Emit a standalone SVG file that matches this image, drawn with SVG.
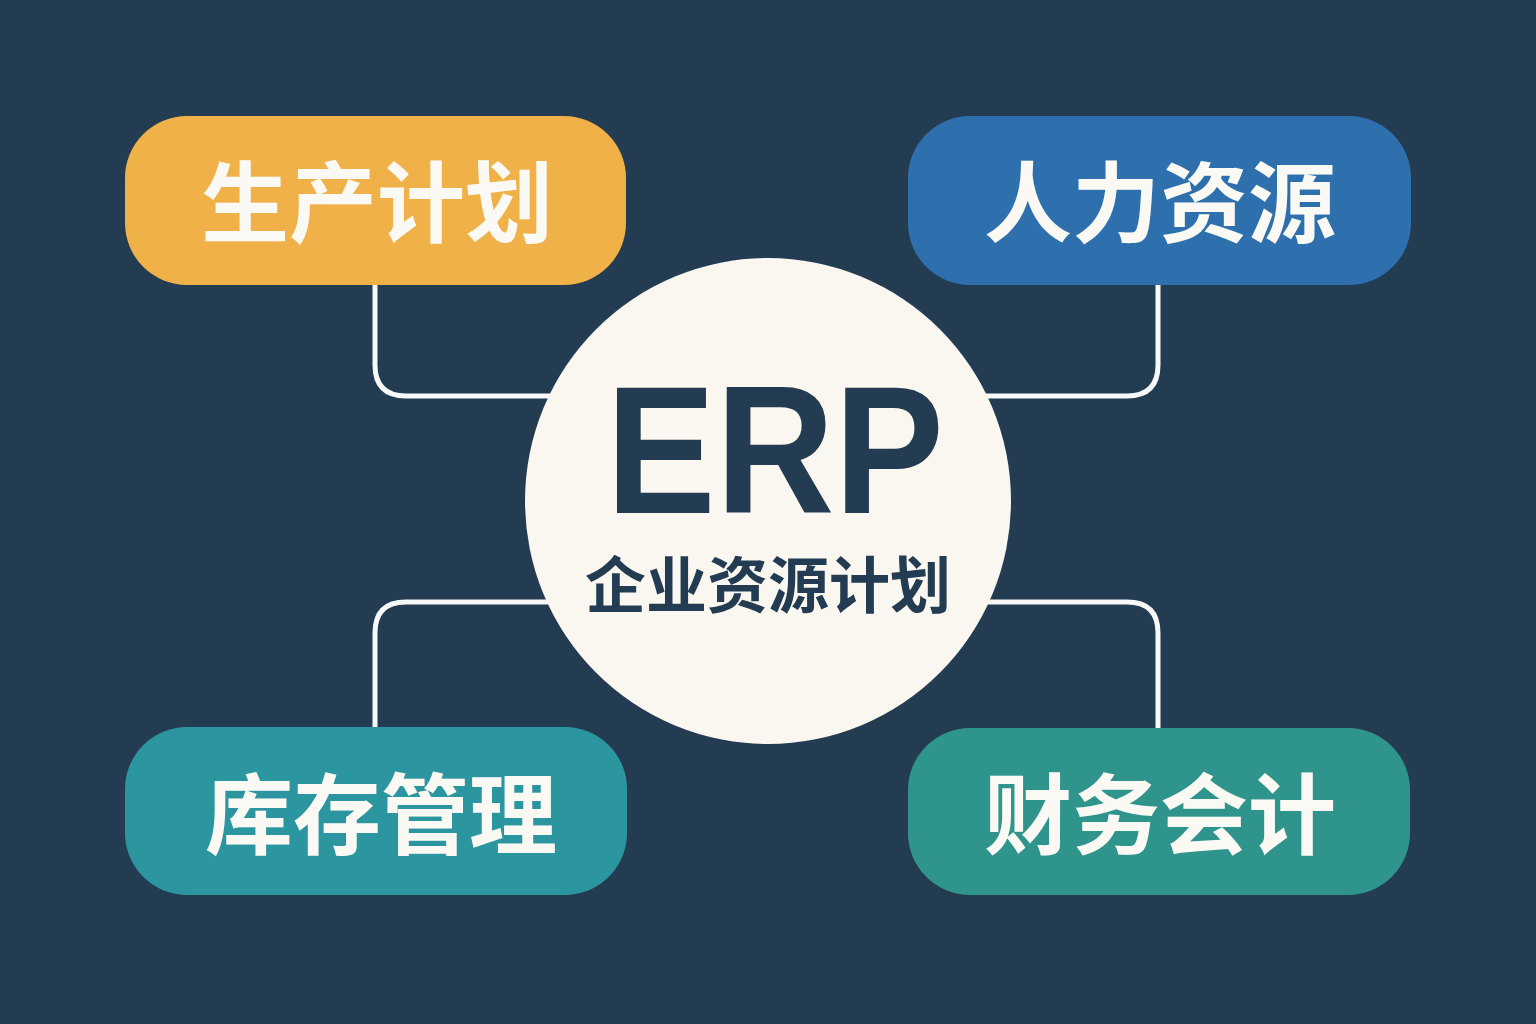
<svg xmlns="http://www.w3.org/2000/svg" width="1536" height="1024" viewBox="0 0 1536 1024">
  <style>
    .conn { fill: none; stroke: #f6f8f9; stroke-width: 5; stroke-linecap: butt; }
    .label { font-family: "Noto Sans CJK SC", "Noto Sans", sans-serif; font-weight: 700; font-size: 88px; fill: #fbf9f4; text-anchor: middle; }
  </style>
  <rect x="0" y="0" width="1536" height="1024" fill="#243c52"/>
  <g id="connectors">
    <path class="conn" d="M375 285 V365 Q375 396 406 396 H560"/>
    <path class="conn" d="M1158 285 V365 Q1158 396 1127 396 H975"/>
    <path class="conn" d="M375 728 V633 Q375 602 406 602 H560"/>
    <path class="conn" d="M1158 728 V633 Q1158 602 1127 602 H975"/>
  </g>
  <g id="node-production">
    <rect x="125" y="116" width="501" height="169" rx="62" fill="#efb148"/>
    <text class="label" x="377" y="235">生产计划</text>
  </g>
  <g id="node-hr">
    <rect x="908" y="116" width="503" height="169" rx="62" fill="#2e70ad"/>
    <text class="label" x="1160" y="235">人力资源</text>
  </g>
  <g id="node-inventory">
    <rect x="125" y="727" width="502" height="168" rx="62" fill="#2c96a0"/>
    <text class="label" x="381" y="847">库存管理</text>
  </g>
  <g id="node-finance">
    <rect x="908" y="728" width="502" height="167" rx="62" fill="#2f958c"/>
    <text class="label" x="1160" y="847">财务会计</text>
  </g>
  <g id="node-erp">
    <circle cx="768" cy="501" r="243" fill="#faf7f1"/>
    <text x="775" y="513" font-family="'Liberation Sans', Arial, sans-serif" font-weight="700" font-size="182" fill="#243c52" text-anchor="middle" textLength="338" lengthAdjust="spacingAndGlyphs">ERP</text>
    <text x="768" y="608" font-family="'Liberation Sans', 'Noto Sans CJK SC', sans-serif" font-weight="700" font-size="61" fill="#243c52" text-anchor="middle">企业资源计划</text>
  </g>
</svg>
